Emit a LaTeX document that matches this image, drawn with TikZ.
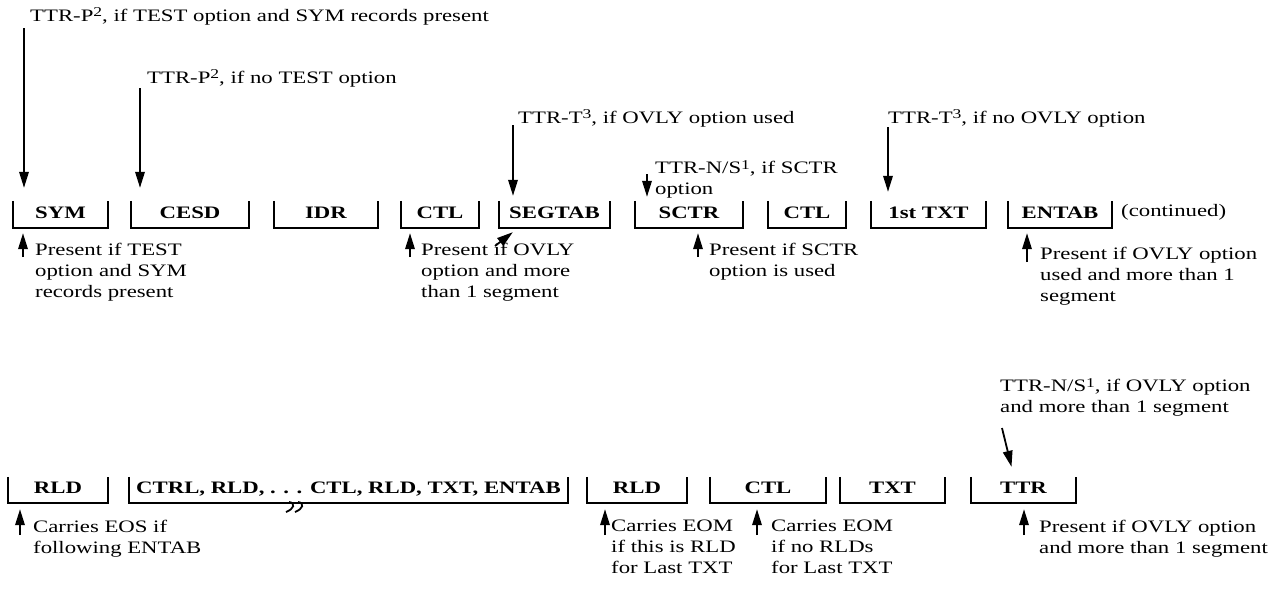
\documentclass[tikz,border=0pt]{standalone}
\usepackage{fontspec}
\setmainfont[FakeStretch=1.3]{Liberation Serif}
\usetikzlibrary{arrows.meta}
\newcommand\supr[1]{\raisebox{0.5ex}{\fontsize{13.5}{13.5}\selectfont #1}}
\begin{document}
\begin{tikzpicture}[x=1pt,y=-1pt,
  every node/.style={font=\fontsize{17.5}{21}\selectfont, inner sep=0pt},
  boxn/.style={font=\fontsize{17.5}{21}\selectfont\bfseries, text height=12pt, text depth=5pt},
  brk/.style={line width=1.9pt},
  arr/.style={line width=1.8pt, -{Triangle[length=16pt,width=9.5pt]}},
  note/.style={align=left, anchor=north west},
  lab/.style={anchor=base west}]
\useasboundingbox (0,0) rectangle (1282,606);

% ---- row 1 boxes
\node[boxn, minimum width=95pt,  minimum height=27pt] (sym)    at (60.5,214.5) {SYM};
\node[boxn, minimum width=118pt, minimum height=27pt] (cesd)   at (190,214.5)  {CESD};
\node[boxn, minimum width=104pt, minimum height=27pt] (idr)    at (326,214.5)  {IDR};
\node[boxn, minimum width=78pt,  minimum height=27pt] (ctla)   at (440,214.5)  {CTL};
\node[boxn, minimum width=111pt, minimum height=27pt] (segtab) at (554.5,214.5){SEGTAB};
\node[boxn, minimum width=108pt, minimum height=27pt] (sctr)   at (689,214.5)  {SCTR};
\node[boxn, minimum width=78pt,  minimum height=27pt] (ctlb)   at (807,214.5)  {CTL};
\node[boxn, minimum width=115pt, minimum height=27pt] (ftxt)   at (928.5,214.5){1st TXT};
\node[boxn, minimum width=104pt, minimum height=27pt] (entab)  at (1060,214.5) {ENTAB};
\node[anchor=west] (cont) at (1121,212) {(continued)};

% ---- row 2 boxes
\node[boxn, minimum width=100pt, minimum height=26pt] (rlda) at (58,490)     {RLD};
\node[boxn, minimum width=439pt, minimum height=26pt] (ctrl) at (348.5,490)  {CTRL, RLD, . . . CTL, RLD, TXT, ENTAB};
\node[boxn, minimum width=100pt, minimum height=26pt] (rldb) at (637,490)    {RLD};
\node[boxn, minimum width=116pt, minimum height=26pt] (ctlc) at (768,490)    {CTL};
\node[boxn, minimum width=105pt, minimum height=26pt] (txt)  at (892.5,490)  {TXT};
\node[boxn, minimum width=105pt, minimum height=26pt] (ttr)  at (1023.5,490) {TTR};

\foreach \n in {sym,cesd,idr,ctla,segtab,sctr,ctlb,ftxt,entab,rlda,ctrl,rldb,ctlc,txt,ttr}
  \draw[brk] (\n.north west) -- (\n.south west) -- (\n.south east) -- (\n.north east);

% break mark in the long box
\draw[line width=1.8pt] (289,502) .. controls (296,503) and (294,509) .. (286,512);
\draw[line width=1.8pt] (298,502) .. controls (305,503) and (303,509) .. (295,512);

% ---- top labels, row 1
\node[lab] (l1) at (30,21)  {TTR-P\supr{2}, if TEST option and SYM records present};
\node[lab] (l2) at (147,83) {TTR-P\supr{2}, if no TEST option};
\node[lab] (l3) at (518,123){TTR-T\supr{3}, if OVLY option used};
\node[note] (l4) at (655,160){TTR-N/S\supr{1}, if SCTR\\option};
\node[lab] (l5) at (888,123){TTR-T\supr{3}, if no OVLY option};

\coordinate (d1) at (24,28);
\coordinate (d2) at (140,88);
\coordinate (d3) at (513,125);
\coordinate (d4) at (647,174);
\coordinate (d5) at (888,127);
\draw[arr, shorten >=13pt] (d1) -- (d1 |- sym.north);
\draw[arr, shorten >=13pt] (d2) -- (d2 |- cesd.north);
\draw[arr, shorten >=5pt]  (d3) -- (d3 |- segtab.north);
\draw[arr, shorten >=4pt]  (d4) -- (d4 |- sctr.north);
\draw[arr, shorten >=9pt]  (d5) -- (d5 |- ftxt.north);

% ---- notes below row 1
\coordinate (u1) at (23,257);
\coordinate (u2) at (410,257);
\coordinate (u3) at (495,246);
\coordinate (u4) at (698,257);
\coordinate (u5) at (1027,262);
\draw[arr, shorten >=5pt] (u1) -- (u1 |- sym.south);
\draw[arr, shorten >=5pt] (u2) -- (u2 |- ctla.south);
\draw[arr] (u3) -- ([xshift=14pt,yshift=-4pt]segtab.south west);
\draw[arr, shorten >=5pt] (u4) -- (u4 |- sctr.south);
\draw[arr, shorten >=5pt] (u5) -- (u5 |- entab.south);

\node[note] (n1) at (35,243)  {Present if TEST\\option and SYM\\records present};
\node[note] (n2) at (421,243) {Present if OVLY\\option and more\\than 1 segment};
\node[note] (n3) at (709,243) {Present if SCTR\\option is used};
\node[note] (n4) at (1040,247){Present if OVLY option\\used and more than 1\\segment};

% ---- row 2 labels
\node[note] (l6) at (1000,378) {TTR-N/S\supr{1}, if OVLY option\\and more than 1 segment};
\coordinate (d6) at (1002,428);
\draw[arr] (d6) -- ([xshift=-12pt,yshift=10pt]ttr.north);

\coordinate (v1) at (20,535);
\coordinate (v2) at (605,535);
\coordinate (v3) at (757,535);
\coordinate (v4) at (1024,535);
\draw[arr, shorten >=6pt] (v1) -- (v1 |- rlda.south);
\draw[arr, shorten >=6pt] (v2) -- (v2 |- rldb.south);
\draw[arr, shorten >=6pt] (v3) -- (v3 |- ctlc.south);
\draw[arr, shorten >=6pt] (v4) -- (v4 |- ttr.south);

\node[note] (m1) at (33,520)   {Carries EOS if\\following ENTAB};
\node[note] (m2) at (611,520)  {Carries EOM\\if this is RLD\\for Last TXT};
\node[note] (m3) at (771,520)  {Carries EOM\\if no RLDs\\for Last TXT};
\node[note] (m4) at (1039,520) {Present if OVLY option\\and more than 1 segment};
\end{tikzpicture}
\end{document}
